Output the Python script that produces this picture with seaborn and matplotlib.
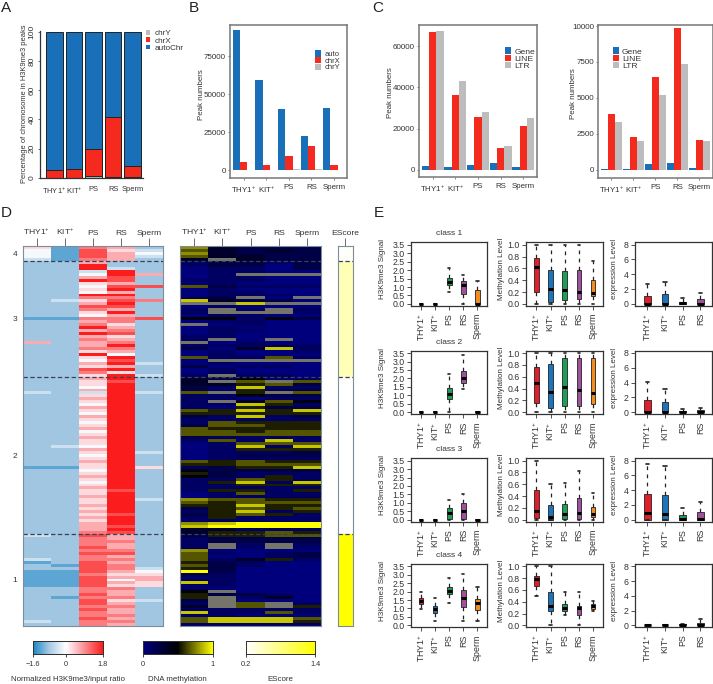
import numpy as np
import pandas as pd
import matplotlib
matplotlib.use("Agg")
import matplotlib.pyplot as plt
from matplotlib.colors import LinearSegmentedColormap
from matplotlib.patches import Patch
import seaborn as sns

sns.set_theme(style="white")
plt.rcParams['font.family'] = ['Liberation Sans', 'DejaVu Sans']
plt.rcParams['mathtext.default'] = 'regular'
plt.rcParams['mathtext.fontset'] = 'custom'
plt.rcParams['mathtext.rm'] = 'Liberation Sans'
plt.rcParams['text.color'] = '#333333'
plt.rcParams['axes.labelcolor'] = '#333333'
plt.rcParams['xtick.color'] = '#333333'
plt.rcParams['ytick.color'] = '#333333'

W, H = 713, 684
stages = ["THY1$^{+}$", "KIT$^{+}$", "PS", "RS", "Sperm"]

# Panel A
a_chrY = [0.3, 0.3, 1.5, 1.0, 0.7]
a_chrX = [5.2, 5.7, 18.5, 41.0, 7.3]
a_auto = [94.5, 94.0, 80.0, 58.0, 92.0]
# Panel B
b_auto = [92000, 59000, 40000, 22500, 41000]
b_chrX = [5000, 3300, 9200, 16000, 3300]
b_chrY = [300, 200, 800, 500, 200]
# Panel C
c1_gene = [2000, 1300, 2500, 3400, 1300]
c1_line = [67000, 36500, 25800, 10800, 21500]
c1_ltr = [67200, 43000, 28300, 11500, 25000]
c2_gene = [30, 50, 400, 450, 130]
c2_line = [3880, 2300, 6430, 9830, 2050]
c2_ltr = [3300, 2020, 5230, 7350, 2000]

# Panel D: rows top to bottom, one digit per stage (0..9 over the colour range)
h3_c4 = ["51762", "41853", "41864", "41863", "31762"]
h3_c3 = ["22622", "22922", "22932", "22392", "22496", "22682", "22982", "22562",
         "22488", "22592", "22462", "22992", "22772", "23587", "22692", "22882",
         "22762", "22592", "22462", "11778", "22672", "22752", "22962", "22672",
         "22982", "22652", "22762", "62672", "22692", "22772", "22562", "22942",
         "22592", "22482", "22693", "22562", "22892", "22752", "22593"]
h3_c2 = ["22692", "22582", "22592", "22492", "22692", "32393", "22592", "22692",
         "22592", "22492", "22692", "22592", "22492", "22692", "22592", "22492",
         "22592", "22692", "22492", "22592", "22692", "22592",
         "22592", "23492", "22692", "22593", "22492", "22592", "22692", "22592",
         "11595", "22492", "22592", "22692", "22592", "22492", "22592", "22692",
         "22582", "22592", "22692", "22593", "22592", "22692", "22592", "22692",
         "22582", "22692", "22592", "22692", "22682", "22692", "22782"]
h3_c1 = ["32862", "22762", "22772", "22762", "22862", "22772", "22882", "22762",
         "32772", "12862", "21872", "22873", "11864", "11755", "11866", "11846",
         "11865", "11855", "22772", "22762", "22862", "21772", "22853", "22862",
         "22772", "22862", "22762", "22772", "22862", "32772", "22762"]

me_c4 = ["73222", "63232", "73222", "63322", "3g322"]
me_c3 = ["12212", "12202", "01102", "01100", "01ggg", "01100", "11100", "01000",
         "62111", "01000", "01100", "01110", "12g0g", "83220", "gg8gg", "01000",
         "1g1g1", "1ggg1", "01100", "44142", "01100", "g0100", "01000", "01100",
         "01000", "11000", "1g0g0", "g0100", "11111", "20381", "01001", "01000",
         "61161", "0gggg", "01000", "20110", "01000", "01000", "1g110"]
me_c2 = ["32411", "3g6g6", "33562", "21811", "21522", "6g5g6", "11422", "11011",
         "1g364", "11851", "10522", "65858", "55555", "21812", "11111", "16555",
         "26655", "65555", "66566", "66666", "21111", "16181",
         "01666", "01818", "01555", "01112", "01222", "01111", "65655", "55666",
         "12558", "42222", "52111", "42151", "11651", "15818", "11555", "11111",
         "15515", "01611", "01111", "76655", "65666", "55855", "25656", "15815",
         "25651", "15111", "11111", "78999", "89999", "33111", "35565"]
me_c1 = ["25566", "12222", "12222", "1g1g1", "1g1g1", "70000", "61012", "60012",
         "61351", "52100", "62100", "52000", "92000", "21000", "11000", "11000",
         "81000", "11000", "10000", "4g000", "52210", "5g130", "2g000", "1g6g1",
         "3g6g5", "11111", "81161", "11000", "68886", "68885", "11111"]

# EScore per class, classes from top to bottom
escore_class = [0.23, 0.55, 0.2, 1.4]

# Panel E: whisker low, q1, median, q3, whisker high per stage
z = [0, 0, 0, 0, 0]
e_h3 = [
    [z, z, [.7, 1.1, 1.3, 1.55, 2.1], [0, .6, 1.1, 1.35, 1.7], [0, 0, 0, .85, 1.35]],
    [z, z, [0, .8, 1.1, 1.45, 2.25], [1.4, 1.75, 2.05, 2.45, 3.4], z],
    [z, z, [0, .05, .42, .7, 1.15], [0, .05, .52, 1.0, 1.55], z],
    [[.95, 1.25, 1.45, 1.6, 2.0], [.25, .75, .95, 1.15, 1.65], [1.3, 1.85, 2.05, 2.25, 2.8],
     [.25, 1.1, 1.65, 2.1, 3.05], [.25, .9, 1.3, 1.55, 2.3]],
]
e_me = [
    [[0, .2, .62, .77, 1], [0, .04, .25, .57, 1], [0, .07, .24, .56, 1], [0, .08, .2, .57, 1], [0, .13, .18, .41, .72]],
    [[0, .15, .5, .76, 1], [0, .08, .34, .82, 1], [0, .11, .42, .91, 1], [0, .11, .37, .91, 1], [0, .14, .32, .91, 1]],
    [[0, .03, .15, .5, 1], [0, 0, .05, .25, .6], [0, .01, .1, .27, .63], [0, .01, .11, .36, .82], [0, .04, .1, .22, .46]],
    [[.5, .67, .78, .84, 1], [0, .25, .33, .56, 1], [.18, .24, .3, .36, .56], [0, .18, .3, .32, .56], [.25, .28, .32, .36, .42]],
]
e_ex = [
    [[0, 0, 0, 1.1, 2.7], [0, 0, 0, 1.3, 3.0], [0, 0, .1, .3, .75], [0, 0, .05, .65, 1.45]],
    [[0, 0, 0, 1.7, 4.1], [0, 0, 0, 1.35, 3.1], [0, 0, .1, .2, .5], [0, 0, .1, .25, .55]],
    [[0, 0, .85, 3.5, 7.5], [0, 0, .8, 3.3, 7.3], [0, 0, .1, .65, 1.65], [0, 0, .15, 1.0, 2.35]],
    [[0, 0, 0, .05, .1], [0, 0, 0, .05, .1], [0, 0, .05, .15, .2], [0, 0, .1, .3, .85]],
]

BLUE, RED, GREY = "#1a70b8", "#f42a1e", "#bdbdbd"
BOX = ["#e01f2b", "#1c75bc", "#1e9e57", "#a0509f", "#f28c1e"]
FS = 5.3
TICK = 6.0

fig = plt.figure(figsize=(W / 100, H / 100), dpi=100, facecolor="white")


def ax_px(l, t, r, b):
    return fig.add_axes([l / W, 1 - b / H, (r - l) / W, (b - t) / H])


def fig_xy(x, y):
    return x / W, 1 - y / H


def px_legend(ax, x, y, labels, colors, fs, hw, hh, gap, spacing):
    handles = [Patch(facecolor=c, edgecolor="none") for c in colors]
    ax.legend(handles, labels, loc="upper left", bbox_to_anchor=fig_xy(x, y),
              bbox_transform=fig.transFigure, frameon=False, fontsize=fs, borderpad=0,
              borderaxespad=0, handlelength=hw, handleheight=hh, handletextpad=gap,
              labelspacing=spacing)


def grouped(ax, s1, s2, s3, names, xlim, ylim, yticks, ylab_px, colors=(BLUE, RED, GREY)):
    df = pd.DataFrame({"stage": stages * 3, "value": list(s1) + list(s2) + list(s3),
                       "kind": [names[0]] * 5 + [names[1]] * 5 + [names[2]] * 5})
    sns.barplot(data=df, x="stage", y="value", hue="kind", palette=list(colors), width=.97,
                gap=0, linewidth=0, saturation=1, legend=False, ax=ax, errorbar=None)
    ax.set_xlim(*xlim)
    ax.set_ylim(*ylim)
    ax.set_yticks(yticks)
    ax.set_yticklabels([str(v) for v in yticks])
    ax.set_xlabel("")
    ax.set_ylabel("Peak numbers", fontsize=5.7)
    ax.yaxis.set_label_coords(*fig_xy(*ylab_px), transform=fig.transFigure)
    ax.tick_params(axis="both", labelsize=TICK - .2, length=1.5, width=.5, pad=1.5, left=True, bottom=True, color="#555555")
    ax.tick_params(axis="x", pad=3, labelsize=TICK - .3)
    for s in ax.spines.values():
        s.set_color("#777777")
        s.set_linewidth(1.1)


# ---------- A ----------
axA = ax_px(39.5, 31, 142.5, 178)
dfA = pd.DataFrame({"stage": stages, "chrY": a_chrY, "chrX": a_chrX, "auto": a_auto})
dfA["xtop"] = dfA.chrY + dfA.chrX
dfA["atop"] = dfA.xtop + dfA.auto
for col, c in (("atop", BLUE), ("xtop", RED), ("chrY", GREY)):
    sns.barplot(data=dfA, x="stage", y=col, color=c, width=.85, edgecolor="#222222",
                linewidth=.7, saturation=1, ax=axA, errorbar=None)
axA.set_xlim(-.755, 4.5)
axA.set_ylim(0, 100.4)
axA.set_yticks([0, 20, 40, 60, 80, 100])
axA.set_xlabel("")
axA.set_ylabel("Percentage of chromosome in H3K9me3 peaks", fontsize=FS + .1)
axA.yaxis.set_label_coords(*fig_xy(28, 104), transform=fig.transFigure)
axA.tick_params(axis="both", labelsize=TICK - .6, length=1.5, width=.5, pad=1.5, left=True, bottom=False)
axA.tick_params(axis="y", labelsize=TICK)
axA.tick_params(axis="x", pad=4)
plt.setp(axA.get_yticklabels(), rotation=90, va="center")
sns.despine(ax=axA)
for s in ("left", "bottom"):
    axA.spines[s].set_linewidth(.9)
    axA.spines[s].set_color("#333333")
px_legend(axA, 146, 30, ["chrY", "chrX", "autoChr"], [GREY, RED, BLUE], 5.9, .5, .5, .6, .02)

# ---------- B ----------
axB = ax_px(230, 25, 346.7, 178)
grouped(axB, b_auto, b_chrX, b_chrY, ["auto", "chrX", "chrY"], (-.606, 4.56), (-5260, 95400),
        [0, 25000, 50000, 75000], (205, 95))
px_legend(axB, 315, 50.5, ["auto", "chrX", "chrY"], [BLUE, RED, GREY], 5.5, .85, .85, .35, -.15)

# ---------- C ----------
axC1 = ax_px(419, 25, 537.3, 177)
grouped(axC1, c1_gene, c1_line, c1_ltr, ["Gene", "LINE", "LTR"], (-.604, 4.61), (-3400, 70200),
        [0, 20000, 40000, 60000], (394, 93))
px_legend(axC1, 505, 47.5, ["Gene", "LINE", "LTR"], [BLUE, RED, GREY], 6.1, .75, .75, .35, -.1)

axC2 = ax_px(598.3, 25, 713, 178)
grouped(axC2, c2_gene, c2_line, c2_ltr, ["Gene", "LINE", "LTR"], (-.59, 4.62), (-567, 10070),
        [0, 2500, 5000, 7500, 10000], (577, 94))
px_legend(axC2, 612.5, 47.5, ["Gene", "LINE", "LTR"], [BLUE, RED, GREY], 6.1, .75, .75, .35, -.1)

# ---------- D ----------
classes = [("4", h3_c4, me_c4), ("3", h3_c3, me_c3), ("2", h3_c2, me_c2), ("1", h3_c1, me_c1)]


def decode(rows, lo, hi):
    return np.array([[1.2 * hi - .2 * lo if ch == "g" else lo + int(ch) * (hi - lo) / 9
                      for ch in r] for r in rows])


counts = [len(c[1]) for c in classes]
bounds = np.cumsum(counts)
mids = np.concatenate([[0], bounds[:-1]]) + np.array(counts) / 2
h3 = decode(sum((c[1] for c in classes), []), -1.6, 1.8)
me = decode(sum((c[2] for c in classes), []), 0, 1)
es = np.concatenate([np.full((n, 1), v) for n, v in zip(counts, escore_class)])

cm_h3 = LinearSegmentedColormap.from_list("h3", [(0, "#1a86c4"), (.225, "#a4c8e3"), (.47, "#ffffff"),
                                                 (.6, "#fbc8ce"), (1, "#fb1d1d")])
cm_me = LinearSegmentedColormap.from_list("me", ["#00007d", "#000000", "#ffff00"]).with_extremes(over="#74746a")
cm_es = LinearSegmentedColormap.from_list("es", ["#ffffff", "#ffff00"])

axH1 = ax_px(22.5, 246, 163.5, 626)
axH2 = ax_px(180, 246, 321, 626)
axH3 = ax_px(337.5, 246, 352.5, 626)
cb1 = ax_px(33, 641, 103, 654)
cb2 = ax_px(142.7, 641, 212.7, 654)
cb3 = ax_px(246, 641, 315.3, 654)

specs = [
    (axH1, cb1, h3, cm_h3, -1.6, 1.8, [-1.6, 0, 1.8], ["\u22121.6", "0", "1.8"], "Normalized H3K9me3/input ratio", stages),
    (axH2, cb2, me, cm_me, 0, 1, [0, 1], ["0", "1"], "DNA methylation", stages),
    (axH3, cb3, es, cm_es, .2, 1.4, [.2, 1.4], ["0.2", "1.4"], "EScore", ["EScore"]),
]
for ax, cb, data, cmap, lo, hi, ticks, ticklab, title, cols in specs:
    sns.heatmap(data, ax=ax, cmap=cmap, vmin=lo, vmax=hi, cbar=True, cbar_ax=cb,
                cbar_kws={"orientation": "horizontal", "ticks": ticks}, xticklabels=cols, yticklabels=False)
    ax.xaxis.tick_top()
    ax.tick_params(axis="x", labelsize=TICK + .1, length=5.5, width=.6, pad=.8, top=True, bottom=False, rotation=0,
                   color="#555555")
    for s in ax.spines.values():
        s.set_visible(True)
        s.set_color("#7f8c99")
        s.set_linewidth(.8)
    for b in bounds[:-1]:
        ax.axhline(b, color="#33445a", lw=.9, ls=(0, (3.5, 2)))
    cb.set_xticks(ticks)
    cb.set_xticklabels(ticklab)
    cb.tick_params(axis="x", labelsize=FS, length=2.5, width=.6, pad=2.5, bottom=True, color="#222222")
    for s in cb.spines.values():
        s.set_visible(True)
        s.set_color("#333333")
        s.set_linewidth(.7)
    cb.set_xlabel(title, fontsize=5.7, labelpad=5.5)
axH1.set_yticks(mids)
axH1.set_yticklabels([c[0] for c in classes], rotation=0)
axH1.tick_params(axis="y", labelsize=TICK, length=0, pad=4, left=True)

# ---------- E ----------
col_px = [(410.7, 487), (526, 602.7), (635, 711.7)]
row_px = [(242.3, 306), (350.7, 414.3), (458.3, 521.7), (564, 627.3)]
col_cfg = [
    (e_h3, "H3K9me3 Signal", (-.12, 3.64), [0, .5, 1, 1.5, 2, 2.5, 3, 3.5], (-.73, 4.68), .33, 5),
    (e_me, "Methylation Level", (-.034, 1.04), [0, .2, .4, .6, .8, 1], (-.73, 4.68), .33, 5),
    (e_ex, "expression Level", (-.27, 8.31), [0, 2, 4, 6, 8], (-.7, 3.64), .37, 4),
]
label_x = [386, 505, 618]
for r, (top, bot) in enumerate(row_px):
    for c, (l, rr) in enumerate(col_px):
        table, ylab, ylim, yt, xlim, bw, n = col_cfg[c]
        ax = ax_px(l, top, rr, bot)
        names = stages[:n]
        long = pd.DataFrame({"stage": [s for s in names for _ in range(5)],
                             "value": [v for box in table[r] for v in box]})
        sns.boxplot(data=long, x="stage", y="value", hue="stage", palette=BOX[:n], width=bw,
                    whis=(0, 100), fliersize=0, linewidth=.6, saturation=1, legend=False, ax=ax,
                    boxprops={"edgecolor": "#222222"},
                    medianprops={"color": "black", "linewidth": 2.2, "solid_capstyle": "butt"},
                    whiskerprops={"color": "#222222", "linestyle": (0, (3, 3.5)), "linewidth": .9},
                    capprops={"color": "#222222", "linewidth": 1.2})
        ax.set_xlim(*xlim)
        ax.set_ylim(*ylim)
        ax.set_yticks(yt)
        ax.set_yticklabels([f"{v:.1f}" if c < 2 else str(v) for v in yt])
        ax.set_xlabel("")
        ax.set_ylabel(ylab, fontsize=5.8)
        ax.yaxis.set_label_coords(*fig_xy(label_x[c], (top + bot) / 2 - 5), transform=fig.transFigure)
        ax.tick_params(axis="y", labelsize=6.3, length=3, width=.6, pad=1.5, left=True, color="#333333")
        ax.tick_params(axis="x", labelsize=6.4, length=3, width=.6, pad=2, bottom=True, rotation=90, color="#333333")
        for s in ax.spines.values():
            s.set_color("#333333")
            s.set_linewidth(.9)
        if c == 0:
            ax.set_title(f"class {r + 1}", fontsize=6, pad=5)

# panel letters
for t, x, y in (("A", 1, 12), ("B", 189, 12), ("C", 372, 12), ("D", 1, 217), ("E", 374, 217)):
    fig.text(x / W, 1 - y / H, t, fontsize=11, va="baseline", ha="left", color="#222222")

fig.savefig("out.png", dpi=100)
